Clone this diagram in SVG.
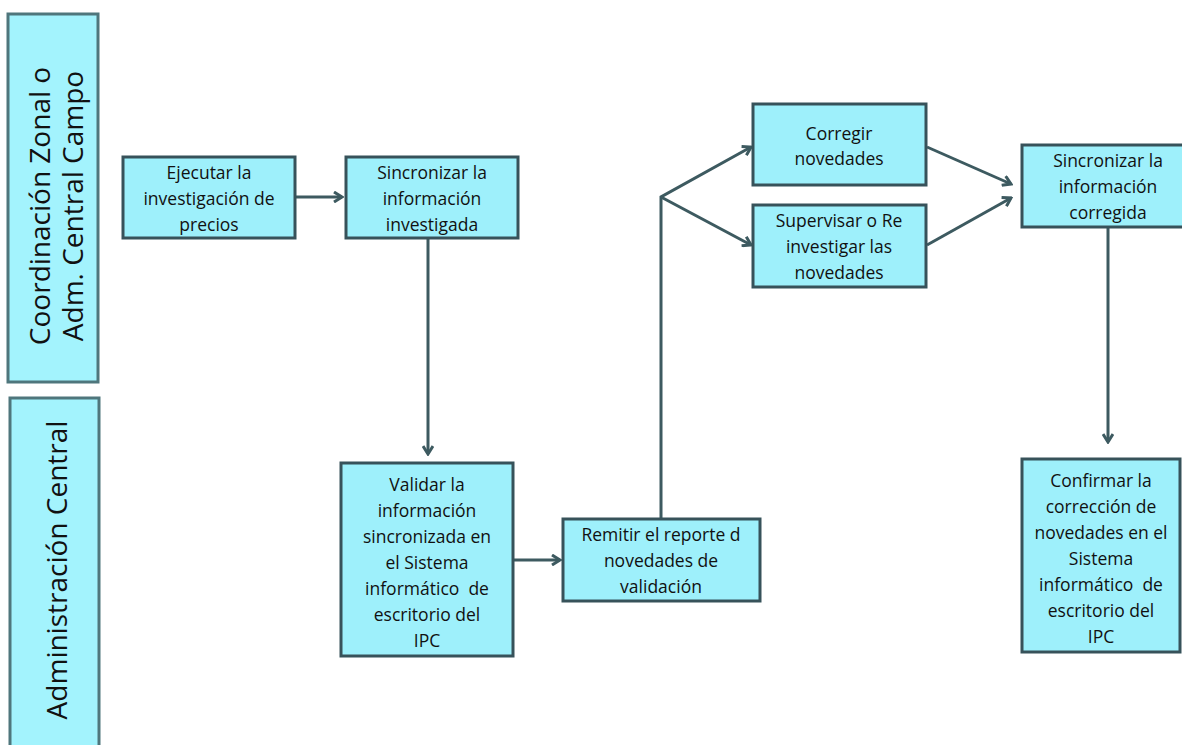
<svg xmlns="http://www.w3.org/2000/svg" width="1182" height="745" viewBox="0 0 1182 745">
<defs>
<style>
.lane{fill:#a3f3fd;stroke:#4f767c;stroke-width:3}
.node{fill:#9ef0fb;stroke:#37525a;stroke-width:3}
.t{font-family:"Open Sans","Liberation Sans",sans-serif;font-size:17.5px;fill:#111;text-anchor:middle;white-space:pre}
.lt{font-family:"Open Sans","Liberation Sans",sans-serif;font-size:28px;fill:#111;text-anchor:middle}
.c{fill:none;stroke:#3d5a60;stroke-width:3}
</style>
<marker id="ah" viewBox="0 0 12 12" refX="10" refY="6" markerWidth="12" markerHeight="12" markerUnits="userSpaceOnUse" orient="auto">
<path d="M2,1 L10,6 L2,11" fill="none" stroke="#3d5a60" stroke-width="3"/>
</marker>
</defs>
<rect width="1182" height="745" fill="#fff"/>
<g id="lane1">
<rect class="lane" x="8" y="14" width="90" height="368"/>
<text class="lt" transform="translate(53,206) rotate(-90)"><tspan x="0" y="-3">Coordinación Zonal o</tspan><tspan x="0" y="30">Adm. Central Campo</tspan></text>
</g>
<g id="lane2">
<rect class="lane" x="10" y="398" width="89" height="360"/>
<text class="lt" transform="translate(57,570) rotate(-90)"><tspan x="0" y="10">Administración Central</tspan></text>
</g>
<g id="connectors">
<line class="c" x1="295" y1="197" x2="342" y2="197" marker-end="url(#ah)"/>
<line class="c" x1="428" y1="238" x2="428" y2="454" marker-end="url(#ah)"/>
<line class="c" x1="513" y1="560" x2="560" y2="560" marker-end="url(#ah)"/>
<polyline class="c" points="661,519 661,197 751,147" marker-end="url(#ah)"/>
<line class="c" x1="661" y1="197" x2="751" y2="245" marker-end="url(#ah)"/>
<line class="c" x1="927" y1="147" x2="1011" y2="184" marker-end="url(#ah)"/>
<line class="c" x1="927" y1="245" x2="1011" y2="198" marker-end="url(#ah)"/>
<line class="c" x1="1108" y1="227" x2="1108" y2="442" marker-end="url(#ah)"/>
</g>
<g id="n1">
<rect class="node" x="123" y="157" width="172" height="81"/>
<text class="t"><tspan x="209" y="179">Ejecutar la</tspan><tspan x="209" y="205">investigación de</tspan><tspan x="209" y="231">precios</tspan></text>
</g>
<g id="n2">
<rect class="node" x="346" y="157" width="172" height="81"/>
<text class="t"><tspan x="432" y="179">Sincronizar la</tspan><tspan x="432" y="205">información</tspan><tspan x="432" y="231">investigada</tspan></text>
</g>
<g id="n3">
<rect class="node" x="341" y="463" width="172" height="193"/>
<text class="t"><tspan x="427" y="491">Validar la</tspan><tspan x="427" y="517">información</tspan><tspan x="427" y="543">sincronizada en</tspan><tspan x="427" y="569">el Sistema</tspan><tspan x="427" y="595">informático  de</tspan><tspan x="427" y="621">escritorio del</tspan><tspan x="427" y="647">IPC</tspan></text>
</g>
<g id="n4">
<rect class="node" x="563" y="519" width="197" height="82"/>
<text class="t"><tspan x="661" y="541">Remitir el reporte d</tspan><tspan x="661" y="567">novedades de</tspan><tspan x="661" y="593">validación</tspan></text>
</g>
<g id="n5">
<rect class="node" x="753" y="104" width="173" height="81"/>
<text class="t"><tspan x="839" y="140">Corregir</tspan><tspan x="839" y="165">novedades</tspan></text>
</g>
<g id="n6">
<rect class="node" x="753" y="205" width="173" height="82"/>
<text class="t"><tspan x="839" y="227">Supervisar o Re</tspan><tspan x="839" y="253">investigar las</tspan><tspan x="839" y="279">novedades</tspan></text>
</g>
<g id="n7">
<rect class="node" x="1022" y="145" width="170" height="82"/>
<text class="t"><tspan x="1108" y="167">Sincronizar la</tspan><tspan x="1108" y="193">información</tspan><tspan x="1108" y="219">corregida</tspan></text>
</g>
<g id="n8">
<rect class="node" x="1022" y="459" width="158" height="193"/>
<text class="t"><tspan x="1101" y="487">Confirmar la</tspan><tspan x="1101" y="513">corrección de</tspan><tspan x="1101" y="539">novedades en el</tspan><tspan x="1101" y="565">Sistema</tspan><tspan x="1101" y="591">informático  de</tspan><tspan x="1101" y="617">escritorio del</tspan><tspan x="1101" y="643">IPC</tspan></text>
</g>
</svg>
